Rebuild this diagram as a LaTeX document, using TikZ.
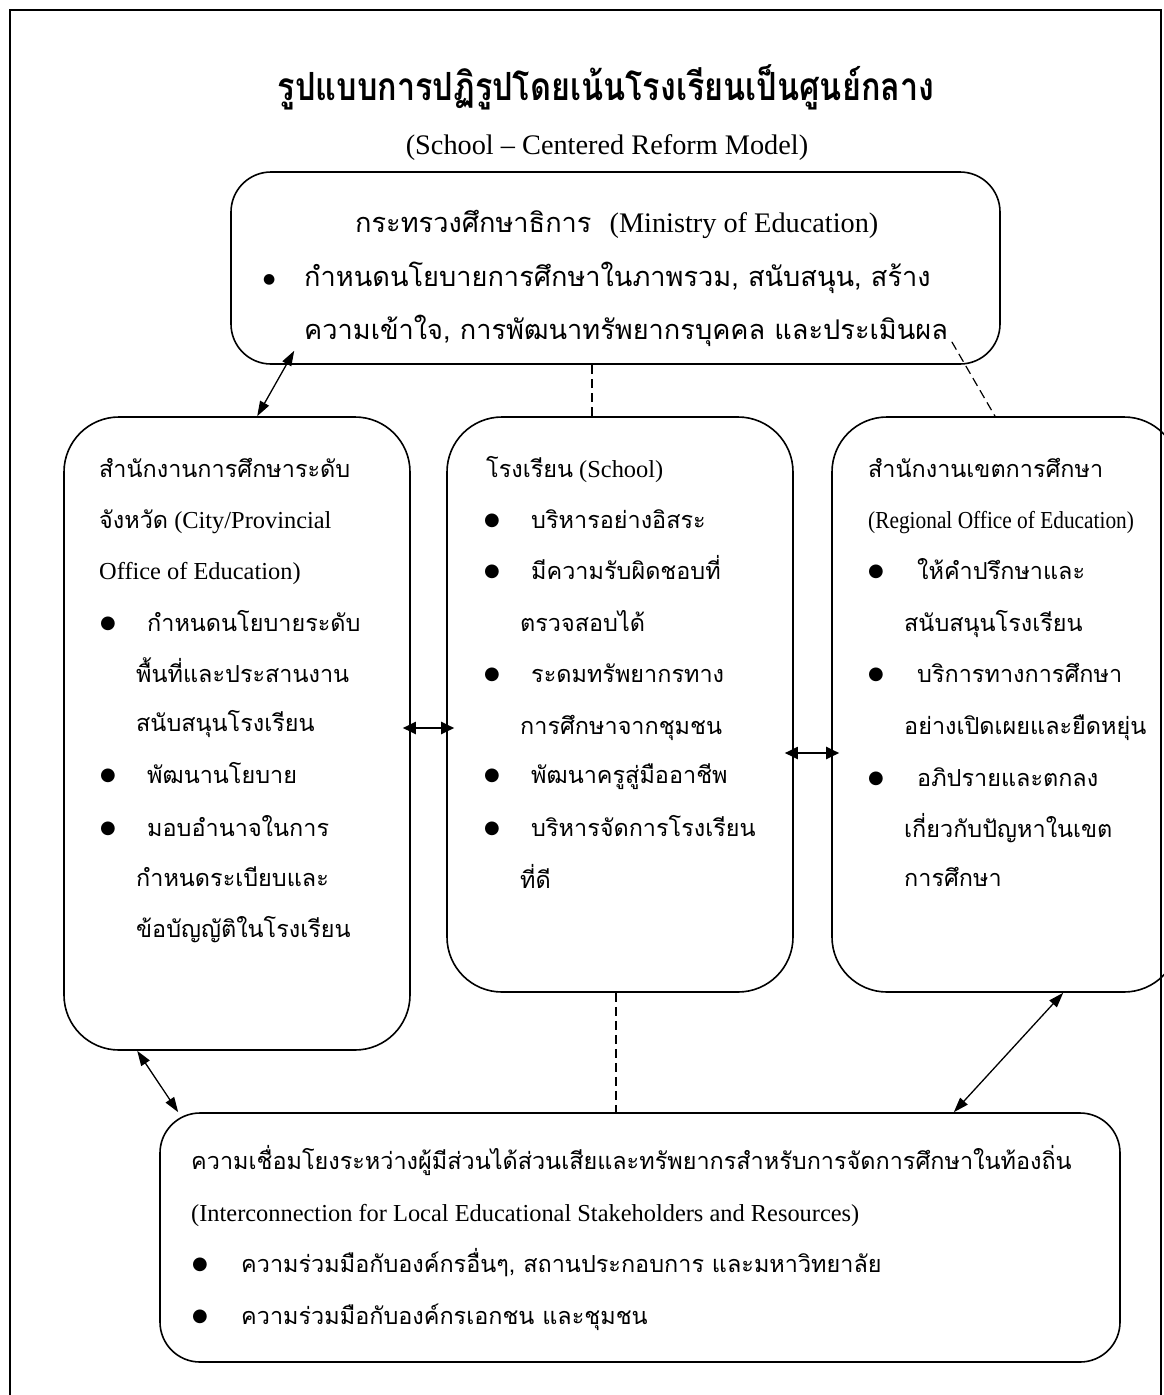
\documentclass[tikz,border=0pt]{standalone}
\usepackage{fontspec}
\setmainfont{Liberation Serif}
\newfontfamily\thaifont[Script=Thai,Scale=0.96]{Loma}
\newfontfamily\symfont{DejaVu Sans}
\usetikzlibrary{arrows.meta,calc}
\newcommand\thx[1]{{\thaifont #1}}
\newcommand\bodysize{\fontsize{24.4pt}{28pt}\selectfont}
\newcommand\bigsize{\fontsize{28.3pt}{32pt}\selectfont}
\newcommand\headsize{\fontsize{33.7pt}{37pt}\selectfont}

\begin{document}
\begin{tikzpicture}[x=1pt,y=-1pt,
  panel/.style={draw, line width=1.6pt, rounded corners=#1, inner sep=0pt},
  txt/.style={anchor=base west, inner sep=0pt, font=\bodysize},
  thtxt/.style={anchor=base west, inner sep=0pt, font=\bodysize\thaifont},
  toptxt/.style={anchor=base west, inner sep=0pt, font=\bigsize},
  dot/.style={anchor=base west, inner sep=0pt, font=\symfont\fontsize{#1}{#1}\selectfont},
  dot/.default=18pt,
  link/.style={line width=1.3pt, {Triangle[length=15pt,width=10pt]}-{Triangle[length=15pt,width=10pt]}},
  hlink/.style={line width=2pt, {Triangle[length=13pt,width=12pt]}-{Triangle[length=13pt,width=12pt]}},
  dashlink/.style={line width=1.2pt, dash pattern=on 9pt off 5pt}]

\clip (0,0) rectangle (1164,1395);
\fill[white] (0,0) rectangle (1164,1395);
% outer frame
\draw[line width=1.3pt] (10,10) rectangle (1161,1420);

% heading
\node[anchor=base, inner sep=0pt, font=\headsize\thaifont\bfseries] (title) at (606,100) {\scalebox{1}[1.2]{รูปแบบการปฏิรูปโดยเน้นโรงเรียนเป็นศูนย์กลาง}};
\node[anchor=base, inner sep=0pt, font=\bigsize] (subtitle) at (607,154) {(School – Centered Reform Model)};

% panels
\node[panel=40pt, minimum width=769pt, minimum height=192pt] (top) at (615.5,268) {};
\node[panel=55pt, minimum width=346pt, minimum height=633pt] (left) at (237,733.5) {};
\node[panel=55pt, minimum width=346pt, minimum height=575pt] (mid) at (620,704.5) {};
\node[panel=55pt, minimum width=347pt, minimum height=575pt] (right) at (1005.5,704.5) {};
\node[panel=40pt, minimum width=960pt, minimum height=249pt] (bottom) at (640,1237.5) {};

% ministry
\node[toptxt] (t1) at (355,232) {\thx{กระทรวงศึกษาธิการ}\hspace{18pt}(Ministry of Education)};
\node[dot=14pt] (t2b) at (263,283) {●};
\node[toptxt, font=\bigsize\thaifont] (t2) at (304,286) {กำหนดนโยบายการศึกษาในภาพรวม, สนับสนุน, สร้าง};
\node[toptxt, font=\bigsize\thaifont] (t3) at (304,339) {ความเข้าใจ, การพัฒนาทรัพยากรบุคคล และประเมินผล};

% provincial office
\node[thtxt] (l1) at (99,477) {สำนักงานการศึกษาระดับ};
\node[txt] (l2) at (99,528) {\thx{จังหวัด} (City/Provincial};
\node[txt] (l3) at (99,579) {Office of Education)};
\node[dot] (l4b) at (100,628) {●};
\node[thtxt] (l4) at (147,631) {กำหนดนโยบายระดับ};
\node[thtxt] (l5) at (136,682) {พื้นที่และประสานงาน};
\node[thtxt] (l6) at (136,731) {สนับสนุนโรงเรียน};
\node[dot] (l7b) at (100,780) {●};
\node[thtxt] (l7) at (147,783) {พัฒนานโยบาย};
\node[dot] (l8b) at (100,833) {●};
\node[thtxt] (l8) at (147,836) {มอบอำนาจในการ};
\node[thtxt] (l9) at (136,886) {กำหนดระเบียบและ};
\node[thtxt] (l10) at (136,937) {ข้อบัญญัติในโรงเรียน};

% school
\node[txt] (m1) at (486,477) {\thx{โรงเรียน} (School)};
\node[dot] (m2b) at (484,525) {●};
\node[thtxt] (m2) at (531,528) {บริหารอย่างอิสระ};
\node[dot] (m3b) at (484,576) {●};
\node[thtxt] (m3) at (531,579) {มีความรับผิดชอบที่};
\node[thtxt] (m4) at (520,631) {ตรวจสอบได้};
\node[dot] (m5b) at (484,679) {●};
\node[thtxt] (m5) at (531,682) {ระดมทรัพยากรทาง};
\node[thtxt] (m6) at (520,734) {การศึกษาจากชุมชน};
\node[dot] (m7b) at (484,780) {●};
\node[thtxt] (m7) at (531,783) {พัฒนาครูสู่มืออาชีพ};
\node[dot] (m8b) at (484,833) {●};
\node[thtxt] (m8) at (531,836) {บริหารจัดการโรงเรียน};
\node[thtxt] (m9) at (520,888) {ที่ดี};

% regional office
\node[thtxt] (r1) at (868,477) {สำนักงานเขตการศึกษา};
\node[txt] (r2) at (868,528) {\scalebox{0.875}[1]{(Regional Office of Education)}};
\node[dot] (r3b) at (868,576) {●};
\node[thtxt] (r3) at (917,579) {ให้คำปรึกษาและ};
\node[thtxt] (r4) at (904,631) {สนับสนุนโรงเรียน};
\node[dot] (r5b) at (868,679) {●};
\node[thtxt] (r5) at (917,682) {บริการทางการศึกษา};
\node[thtxt] (r6) at (904,734) {อย่างเปิดเผยและยืดหยุ่น};
\node[dot] (r7b) at (868,783) {●};
\node[thtxt] (r7) at (917,786) {อภิปรายและตกลง};
\node[thtxt] (r8) at (904,837) {เกี่ยวกับปัญหาในเขต};
\node[thtxt] (r9) at (904,886) {การศึกษา};

% local interconnection
\node[thtxt] (b1) at (191,1169) {ความเชื่อมโยงระหว่างผู้มีส่วนได้ส่วนเสียและทรัพยากรสำหรับการจัดการศึกษาในท้องถิ่น};
\node[txt] (b2) at (191,1221) {(Interconnection for Local Educational Stakeholders and Resources)};
\node[dot] (b3b) at (192,1269) {●};
\node[thtxt] (b3) at (241,1272) {ความร่วมมือกับองค์กรอื่นๆ, สถานประกอบการ และมหาวิทยาลัย};
\node[dot] (b4b) at (192,1321) {●};
\node[thtxt] (b4) at (241,1324) {ความร่วมมือกับองค์กรเอกชน และชุมชน};

% connectors
\draw[link] ([xshift=64pt,yshift=14pt]top.south west) -- ([xshift=194pt]left.north west);
\draw[hlink, shorten <=-8pt, shorten >=-8pt] ([yshift=5.5pt]left.east) -- ([yshift=5.5pt]left.east -| mid.west);
\draw[hlink, shorten <=-9pt, shorten >=-8pt] ([yshift=-48.5pt]mid.east) -- ([yshift=-48.5pt]mid.east -| right.west);
\draw[link] ([xshift=74pt]left.south west) -- ([xshift=19pt]bottom.north west);
\draw[link] ([xshift=232pt]right.south west) -- ([xshift=-167pt]bottom.north east);
\draw[dashlink] ([xshift=-28pt]mid.north) -- ([xshift=-28pt]mid.north |- top.south);
\draw[dashlink] ([xshift=-49pt,yshift=23pt]top.south east) -- ([xshift=-10.5pt]right.north);
\draw[dashlink] ([xshift=-4pt]mid.south) -- ([xshift=-4pt]mid.south |- bottom.north);
\end{tikzpicture}
\end{document}
